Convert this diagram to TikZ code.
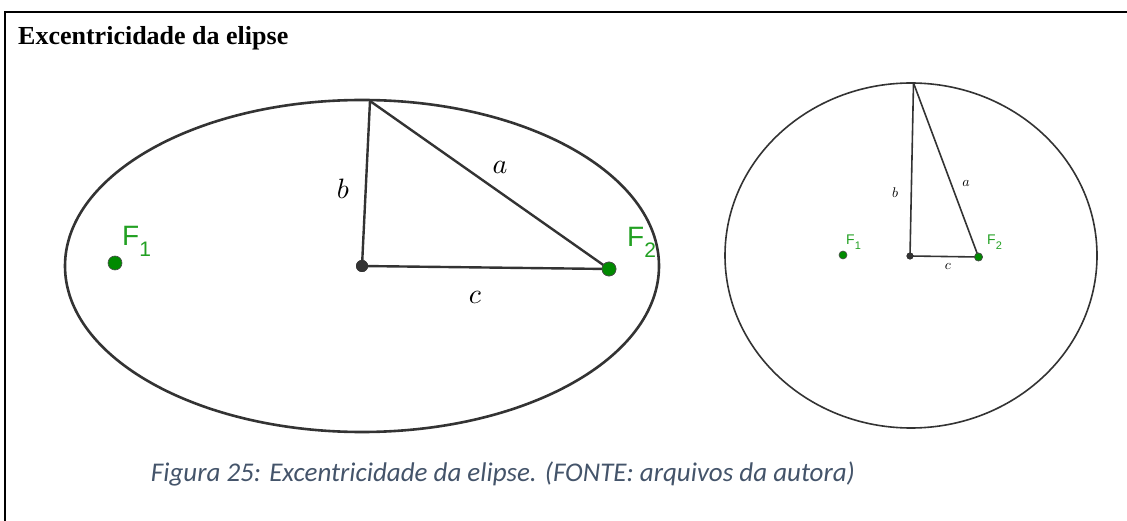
\documentclass[tikz,border=0pt]{standalone}
\usepackage{graphicx}
\usepackage{fontspec}
\setmainfont{Liberation Serif}
\newfontfamily\geofont{Liberation Sans}
\newfontfamily\capfont{Carlito}
\definecolor{geoline}{HTML}{333333}
\definecolor{geogreen}{HTML}{22A022}
\definecolor{ptgreen}{HTML}{008A00}
\definecolor{capblue}{HTML}{44546A}
\tikzset{
  curve/.style={draw=geoline, line width=2.6pt},
  side/.style={draw=geoline, line width=2.4pt},
  focus/.style={circle, fill=ptgreen, draw=black!70, line width=0.6pt, inner sep=0pt},
  centre/.style={circle, fill=geoline, inner sep=0pt},
  flabel/.style={text=geogreen, inner sep=0pt, anchor=base west},
  slabel/.style={inner sep=0pt}
}
% focus label: F with a large, lowered index
\newcommand{\flab}[4]{{\geofont\fontsize{#1}{#1}\selectfont F\raisebox{-#3pt}{\fontsize{#2}{#2}\selectfont #4}}}
% side label: math letter scaled up
\newcommand{\slab}[2]{\scalebox{#1}{$#2$}}
\begin{document}
\begin{tikzpicture}[x=1pt, y=-1pt]
    \useasboundingbox (0,0) rectangle (1127,521);
    % Frame (only left and top edges show)
    \draw[line width=2pt] (5,521) -- (5,12) -- (1127,12);
    \node[anchor=base west, font=\fontsize{26}{30}\selectfont\bfseries, inner sep=0pt] (title) at (18,45) {Excentricidade da elipse};

    % Left plot: elongated ellipse
    \draw[curve] (362,266) ellipse (297 and 166);
    \coordinate (top1) at (370,101);
    \node[centre, minimum size=12pt] (o1) at (362,266) {};
    \node[focus, minimum size=14pt] (f11) at (115,263) {};
    \node[focus, minimum size=14pt] (f12) at (609,269) {};

    \draw[side] (top1) -- (o1.center);
    \draw[side] (top1) -- (f12.center);
    \draw[side] (o1.center) -- (f12.center);
    \node[centre, minimum size=12pt] at (o1) {};
    \node[focus, minimum size=14pt] at (f12) {};

    \node[flabel] (lf11) at (122,246) {\flab{28}{21}{11}{1}};
    \node[flabel] (lf12) at (627,247) {\flab{28}{21}{11}{2}};
    \node[slabel] (lb1) at (343,189) {\slab{2.8}{b}};
    \node[slabel] (la1) at (500,167) {\slab{2.8}{a}};
    \node[slabel] (lc1) at (475,297) {\slab{2.8}{c}};

    % Right plot: nearly circular ellipse
    \draw[curve, line width=1.6pt] (911,255.5) ellipse (186 and 172.5);
    \coordinate (top2) at (913.5,83);
    \node[centre, minimum size=7pt] (o2) at (910,256) {};
    \node[focus, minimum size=8pt] (f21) at (843,255) {};
    \node[focus, minimum size=8pt] (f22) at (978.5,257) {};

    \draw[side, line width=1.6pt] (top2) -- (o2.center);
    \draw[side, line width=1.6pt] (top2) -- (f22.center);
    \draw[side, line width=1.6pt] (o2.center) -- (f22.center);
    \node[centre, minimum size=7pt] at (o2) {};
    \node[focus, minimum size=8pt] at (f22) {};

    \node[flabel] (lf21) at (846,245) {\flab{14}{11}{5}{1}};
    \node[flabel] (lf22) at (987,245) {\flab{14}{11}{5}{2}};
    \node[slabel] (lb2) at (895,193) {\slab{1.4}{b}};
    \node[slabel] (la2) at (966,183) {\slab{1.4}{a}};
    \node[slabel] (lc2) at (948,266) {\slab{1.4}{c}};

    % Caption
    \node[text=capblue, font=\capfont\itshape\fontsize{27}{32}\selectfont, inner sep=0pt] (caption) at (503,474) {Figura 25: Excentricidade da elipse. (FONTE: arquivos da autora)};
\end{tikzpicture}
\end{document}
